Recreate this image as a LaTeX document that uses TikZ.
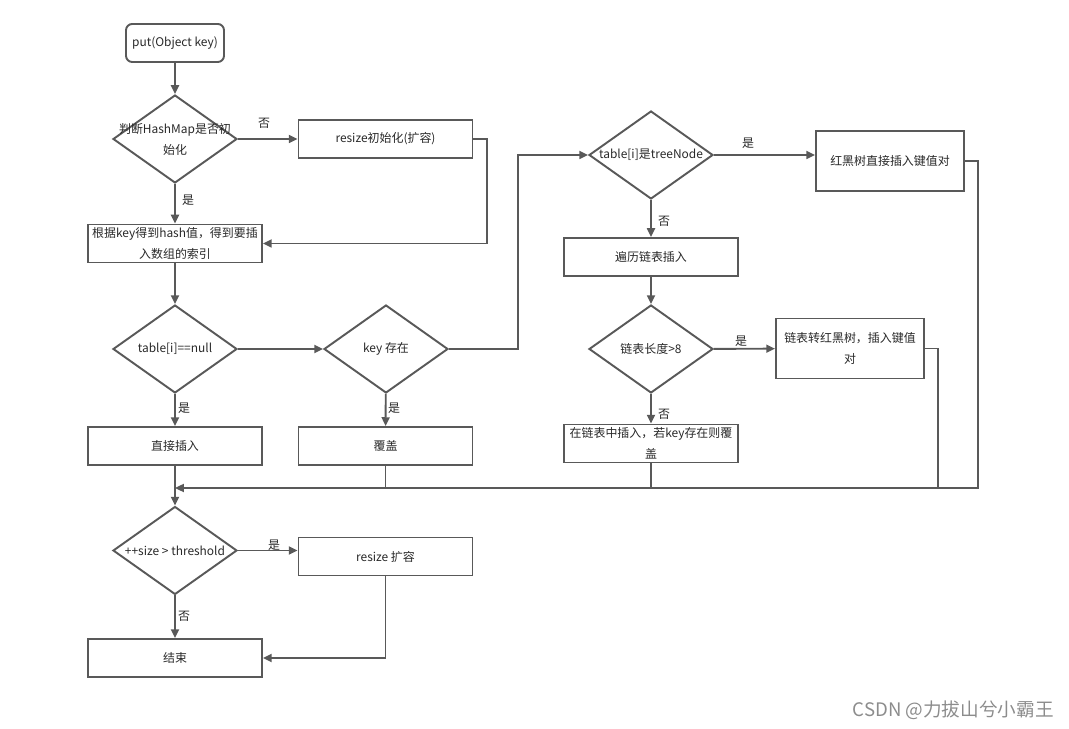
\documentclass[tikz,border=0pt]{standalone}
\usepackage{fontspec}
\setmainfont{Noto Sans CJK SC}
\usetikzlibrary{shapes.geometric,arrows.meta}
\definecolor{linegray}{RGB}{89,89,89}
\definecolor{textgray}{RGB}{40,40,40}
\tikzset{
  flow/.style={draw=linegray,line width=1.1pt,-{Triangle[length=5pt,width=4.5pt]}},
  plain/.style={draw=linegray,line width=1.1pt},
  box/.style={rectangle,draw=linegray,line width=1.1pt,minimum width=3.48cm,minimum height=0.76cm,inner sep=0pt,align=center},
  bigbox/.style={box,minimum width=2.96cm,minimum height=1.2cm},
  startbox/.style={box,rounded corners=3.5pt,minimum width=1.96cm},
  decision/.style={diamond,draw=linegray,line width=1.1pt,minimum width=2.48cm,minimum height=1.76cm,inner sep=0pt},
  lbl/.style={inner sep=0pt}
}
\begin{document}
\begin{tikzpicture}[x=0.02cm,y=-0.02cm,
  every node/.style={font=\fontsize{6.8}{11.9}\selectfont,text=textgray}]
  \useasboundingbox (0,0) rectangle (1069,729);
  % steps
  \node[startbox] (put) at (175,43) {put(Object key)};
  \node[decision,label={[align=center]center:判断HashMap是否初\\始化}] (init) at (175,139) {};
  \node[box] (resize) at (385.5,139) {resize初始化(扩容)};
  \node[box] (hash) at (175,243.5) {根据key得到hash值，得到要插\\入数组的索引};
  \node[decision,label={center:table[i]==null}] (isnull) at (175,349) {};
  \node[decision,label={center:key 存在}] (haskey) at (386,349) {};
  \node[box] (direct) at (175,446) {直接插入};
  \node[box] (cover) at (385.5,446) {覆盖};
  \node[decision,label={center:table[i]是treeNode}] (istree) at (651,155) {};
  \node[bigbox] (treeput) at (890,161) {红黑树直接插入键值对};
  \node[box] (walk) at (651,257) {遍历链表插入};
  \node[decision,label={center:链表长度>8}] (toolong) at (651,349) {};
  \node[bigbox] (treeify) at (850,348.5) {链表转红黑树，插入键值\\对};
  \node[box] (listput) at (651,443.5) {在链表中插入，若key存在则覆\\盖};
  \node[decision,label={center:++size > threshold}] (full) at (175,550.5) {};
  \node[box] (grow) at (385.5,556.5) {resize 扩容};
  \node[box] (done) at (175,658) {结束};
  % bends
  \coordinate (back) at (487,243.5);
  \coordinate (jump) at (518,349);
  \coordinate (merge) at (175,488);
  \coordinate (rjoin) at (938,488);
  \coordinate (outer) at (978,488);
  % yes / no
  \node[lbl] (no1) at (264,123) {否};
  \node[lbl] (yes1) at (188,200) {是};
  \node[lbl] (yes2) at (184,408) {是};
  \node[lbl] (yes3) at (394,408) {是};
  \node[lbl] (yes4) at (748,143) {是};
  \node[lbl] (no2) at (664,221) {否};
  \node[lbl] (yes5) at (741,341) {是};
  \node[lbl] (no3) at (664,414) {否};
  \node[lbl] (yes6) at (274,545) {是};
  \node[lbl] (no4) at (184,616) {否};
  \node[anchor=east,inner sep=0pt,text=black!45,font=\fontsize{10.6}{12}\selectfont] (mark) at (1054,710) {CSDN @力拔山兮小霸王};
  \begin{scope}[every edge/.style={flow}]
    \path (put) edge (init);
    \path (init) edge (resize);
    \path (init) edge (hash);
    \path (hash) edge (isnull);
    \path (isnull) edge (haskey);
    \path (isnull) edge (direct);
    \path (haskey) edge (cover);
    \path (istree.east) edge (istree.east -| treeput.west);
    \path (istree) edge (walk);
    \path (walk) edge (toolong);
    \path (toolong) edge (treeify);
    \path (toolong) edge (listput);
    \path (direct) edge (full);
    \path (full.east) edge (full.east -| grow.west);
    \path (full) edge (done);
  \end{scope}
  \draw[flow] (resize.east) -| (back) -- (hash.east);
  \draw[flow] (haskey.east) -- (jump) |- (istree.west);
  \draw[plain] (cover) -- (cover |- merge);
  \draw[plain] (listput) -- (listput |- merge);
  \draw[plain] (treeify.east) -| (rjoin);
  \draw[flow] (treeput.east) -| (outer) -- (merge);
  \draw[flow] (grow) |- (done);
\end{tikzpicture}
\end{document}
